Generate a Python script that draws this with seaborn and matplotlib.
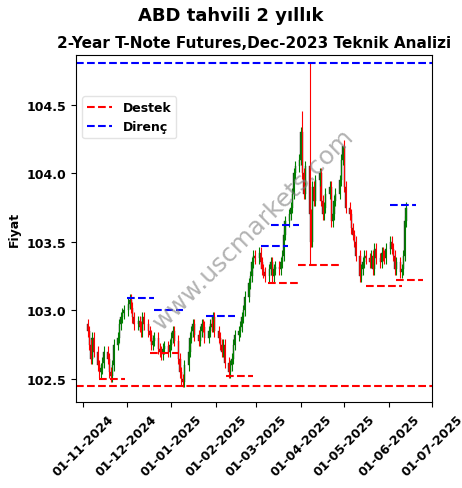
import pandas as pd
import numpy as np
import matplotlib
matplotlib.use("Agg")
import matplotlib.pyplot as plt
import matplotlib.dates as mdates
import seaborn as sns

# Daily closes, business days from 2024-11-04
closes = [
    102.85, 102.75, 102.65, 102.80, 102.70,
    102.60, 102.55, 102.58, 102.62, 102.70,
    102.65, 102.55, 102.52, 102.60, 102.75,
    102.80, 102.90, 102.95, 102.98, 103.00,
    103.05, 103.08, 103.02, 102.95, 102.90,
    102.92, 102.88, 102.85, 102.95, 102.90,
    102.85, 102.82, 102.75, 102.78, 102.80,
    102.72, 102.70, 102.68, 102.72, 102.74,
    102.70, 102.75, 102.80, 102.85, 102.78,
    102.65, 102.55, 102.50, 102.48, 102.60,
    102.70, 102.80, 102.85, 102.90, 102.82,
    102.78, 102.85, 102.90, 102.88, 102.80,
    102.85, 102.90, 102.88, 102.95, 102.85,
    102.80, 102.75, 102.70, 102.75, 102.62,
    102.55, 102.60, 102.65, 102.75, 102.82,
    102.85, 102.88, 102.95, 103.00, 103.10,
    103.20, 103.25, 103.35, 103.40, 103.38,
    103.42, 103.35, 103.30, 103.28, 103.25,
    103.30, 103.35, 103.25, 103.30, 103.32,
    103.30, 103.35, 103.40, 103.55, 103.65,
    103.70, 103.75, 103.85, 104.00, 104.05,
    104.10, 104.30, 104.00, 103.85, 104.05,
    103.70, 103.50, 103.90, 103.80, 103.95,
    104.00, 103.80, 103.70, 103.75, 103.85,
    103.90, 103.65, 103.70, 103.80, 103.85,
    103.95, 104.10, 104.20, 103.90, 103.75,
    103.70, 103.60, 103.55, 103.50, 103.40,
    103.25, 103.30, 103.35, 103.40, 103.38,
    103.35, 103.40, 103.30, 103.45, 103.38,
    103.35, 103.42, 103.40, 103.38, 103.45,
    103.50, 103.45, 103.40, 103.30, 103.35,
    103.28, 103.30, 103.40, 103.65, 103.75,
]
dates = pd.bdate_range("2024-11-04", periods=len(closes))
open0 = 102.90
spike_highs = {"2025-04-07": 104.80, "2025-04-02": 104.45, "2025-04-30": 104.20}
spike_lows = {"2025-04-07": 103.34}

supports = [  # (start, end, level)
    ("2024-11-12", "2024-11-30", 102.50),
    ("2024-12-17", "2025-01-06", 102.69),
    ("2025-02-08", "2025-02-27", 102.52),
    ("2025-03-09", "2025-04-01", 103.20),
    ("2025-03-30", "2025-04-28", 103.33),
    ("2025-05-16", "2025-06-10", 103.18),
    ("2025-06-06", "2025-06-25", 103.22),
]
resistances = [
    ("2024-12-01", "2024-12-20", 103.09),
    ("2024-12-20", "2025-01-09", 103.00),
    ("2025-01-25", "2025-02-14", 102.96),
    ("2025-03-04", "2025-03-23", 103.47),
    ("2025-03-11", "2025-03-31", 103.62),
    ("2025-06-02", "2025-06-20", 103.77),
]
support_all = 102.45
resist_all = 104.80

df = pd.DataFrame({"date": dates, "close": closes})
df["open"] = df["close"].shift(1).fillna(open0)
df["high"] = df[["open", "close"]].max(axis=1) + 0.04
df["low"] = df[["open", "close"]].min(axis=1) - 0.04
for d, v in spike_highs.items():
    df.loc[df["date"] == d, "high"] = v
for d, v in spike_lows.items():
    df.loc[df["date"] == d, "low"] = v

sns.set_style("white")
plt.rcParams["font.family"] = ["DejaVu Sans"]
plt.rcParams["font.weight"] = "bold"
plt.rcParams["text.color"] = "black"
plt.rcParams["axes.labelcolor"] = "black"
plt.rcParams["xtick.color"] = "black"
plt.rcParams["ytick.color"] = "black"
plt.rcParams["axes.edgecolor"] = "black"
fig, ax = plt.subplots(figsize=(4.62, 4.89), dpi=100)

x = mdates.date2num(df["date"])
up = df["close"] >= df["open"]
cols = np.where(up, "green", "red")
ax.vlines(x, df["low"], df["high"], colors=cols, linewidth=0.8)
ax.bar(x, (df["close"] - df["open"]).abs().clip(lower=0.01), bottom=df[["open", "close"]].min(axis=1),
       width=0.8, color=cols, edgecolor="#333333", linewidth=0.3)

for s, e, v in supports:
    ax.hlines(v, mdates.datestr2num(s), mdates.datestr2num(e), colors="red", linestyles="--", linewidth=1.5)
for s, e, v in resistances:
    ax.hlines(v, mdates.datestr2num(s), mdates.datestr2num(e), colors="blue", linestyles="--", linewidth=1.5)
ax.axhline(support_all, color="red", linestyle="--", linewidth=1.5, label="Destek")
ax.axhline(resist_all, color="blue", linestyle="--", linewidth=1.5, label="Direnç")

ax.set_xlim(mdates.datestr2num("2024-10-27"), mdates.datestr2num("2025-07-01"))
ax.set_ylim(102.33, 104.86)
ax.xaxis.set_major_locator(mdates.MonthLocator())
ax.xaxis.set_major_formatter(mdates.DateFormatter("%d-%m-%Y"))
ax.tick_params(axis="both", labelsize=9, direction="out", length=3.5, left=True, bottom=True)
plt.setp(ax.get_xticklabels(), rotation=45, fontweight="bold")
plt.setp(ax.get_yticklabels(), fontweight="bold")
ax.set_ylabel("Fiyat", fontweight="bold", fontsize=9)
ax.legend(loc="upper left", bbox_to_anchor=(0.0, 0.9), prop={"weight": "bold", "size": 9},
          frameon=True, framealpha=0.8, edgecolor="#dddddd")
ax.text(0.5, 0.5, "www.uscmarkets.com", transform=ax.transAxes, fontsize=18, color="gray",
        alpha=0.6, rotation=45, ha="center", va="center", fontweight="normal")
fig.suptitle("ABD tahvili 2 yıllık", fontsize=13, fontweight="bold", y=0.985)
ax.set_title("2-Year T-Note Futures,Dec-2023 Teknik Analizi", fontsize=11, fontweight="bold")
fig.subplots_adjust(left=0.165, right=0.935, top=0.885, bottom=0.175)
fig.savefig("out.png", dpi=100)
